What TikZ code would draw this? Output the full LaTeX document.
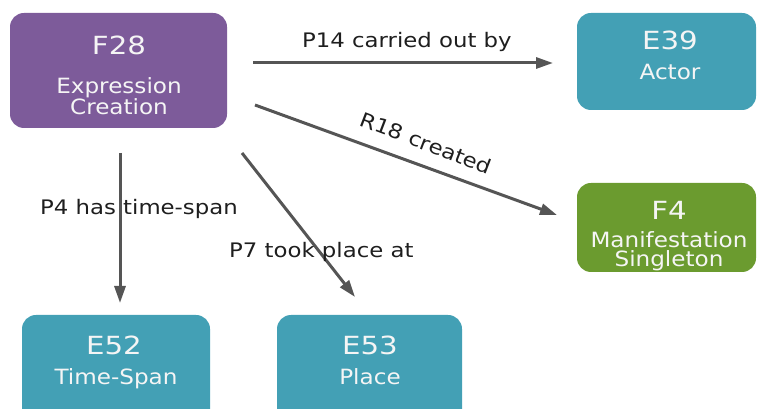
\documentclass[tikz,border=0pt]{standalone}
\usepackage{fontspec}
\setmainfont{DejaVu Sans}
\newfontfamily\titlefont{DejaVu Sans}[FakeStretch=1.17]
\newfontfamily\subfont{DejaVu Sans}[FakeStretch=1.1]
\newfontfamily\lblfont{DejaVu Sans}[FakeStretch=1.14]
\usetikzlibrary{arrows.meta,calc}
\definecolor{cpurple}{RGB}{125,91,154}
\definecolor{cteal}{RGB}{67,160,181}
\definecolor{cgreen}{RGB}{107,155,47}
\definecolor{arrowgray}{RGB}{85,85,85}
\definecolor{lbltext}{RGB}{30,30,30}
\definecolor{boxtext}{RGB}{245,245,245}
\begin{document}
\begin{tikzpicture}[x=1pt,y=1pt,
  box/.style={rounded corners=14pt, inner sep=0pt, outer sep=0pt},
  ttl/.style={text=boxtext, font=\titlefont\fontsize{25}{27}\selectfont, anchor=base, inner sep=0pt},
  sub/.style={text=boxtext, font=\subfont\fontsize{21}{23}\selectfont, anchor=base, inner sep=0pt},
  lbl/.style={text=lbltext, font=\lblfont\fontsize{20}{22}\selectfont, anchor=base west, inner sep=0pt},
  conn/.style={draw=arrowgray, line width=3pt, -{Triangle[length=17pt,width=11pt]}}]
\useasboundingbox (0,0) rectangle (757,409);
\clip (0,0) rectangle (757,409);
% boxes
\node[box, fill=cpurple, minimum width=217pt, minimum height=115pt] (F28) at (118.5,338.5) {};
\node[box, fill=cteal, minimum width=179pt, minimum height=97pt] (E39) at (666.5,347.5) {};
\node[box, fill=cgreen, minimum width=179pt, minimum height=89pt] (F4) at (666.5,181.5) {};
\node[box, fill=cteal, minimum width=188pt, minimum height=109pt] (E52) at (116,39.5) {};
\node[box, fill=cteal, minimum width=185pt, minimum height=109pt] (E53) at (369.5,39.5) {};
% box texts
\node[ttl] (F28t) at (119,354) {F28};
\node[sub] (F28a) at (119,315) {Expression};
\node[sub] (F28b) at (119,294) {Creation};
\node[ttl] (E39t) at (670,359) {E39};
\node[sub] (E39a) at (670,329) {Actor};
\node[ttl] (F4t) at (669,189) {F4};
\node[sub] (F4a) at (669,161) {Manifestation};
\node[sub] (F4b) at (669,142) {Singleton};
\node[ttl] (E52t) at (114,54) {E52};
\node[sub] (E52a) at (116,24) {Time-Span};
\node[ttl] (E53t) at (370,54) {E53};
\node[sub] (E53a) at (370,24) {Place};
% connectors
\draw[conn] ($(F28.east)+(26,7.5)$) -- ($(E39.west)+(-24,-1.5)$);
\draw[conn] ($(F28.east)+(28,-34.5)$) -- ($(F4.west)+(-20,12.5)$);
\draw[conn] ($(F28.south)+(1.5,-25)$) -- ($(E52.north)+(4,12)$);
\draw[conn] ($(F28.south east)+(15,-25)$) -- ($(E53.north)+(-14.5,18)$);
% labels
\node[lbl] (l14) at (302,361) {P14 carried out by};
\node[lbl] (l4) at (40,194) {P4 has time-span};
\node[lbl] (l7) at (229,151) {P7 took place at};
\node[text=lbltext, font=\lblfont\fontsize{20}{22}\selectfont, inner sep=0pt,
  rotate=-21] (l18) at (426,266) {R18 created};
\end{tikzpicture}
\end{document}
